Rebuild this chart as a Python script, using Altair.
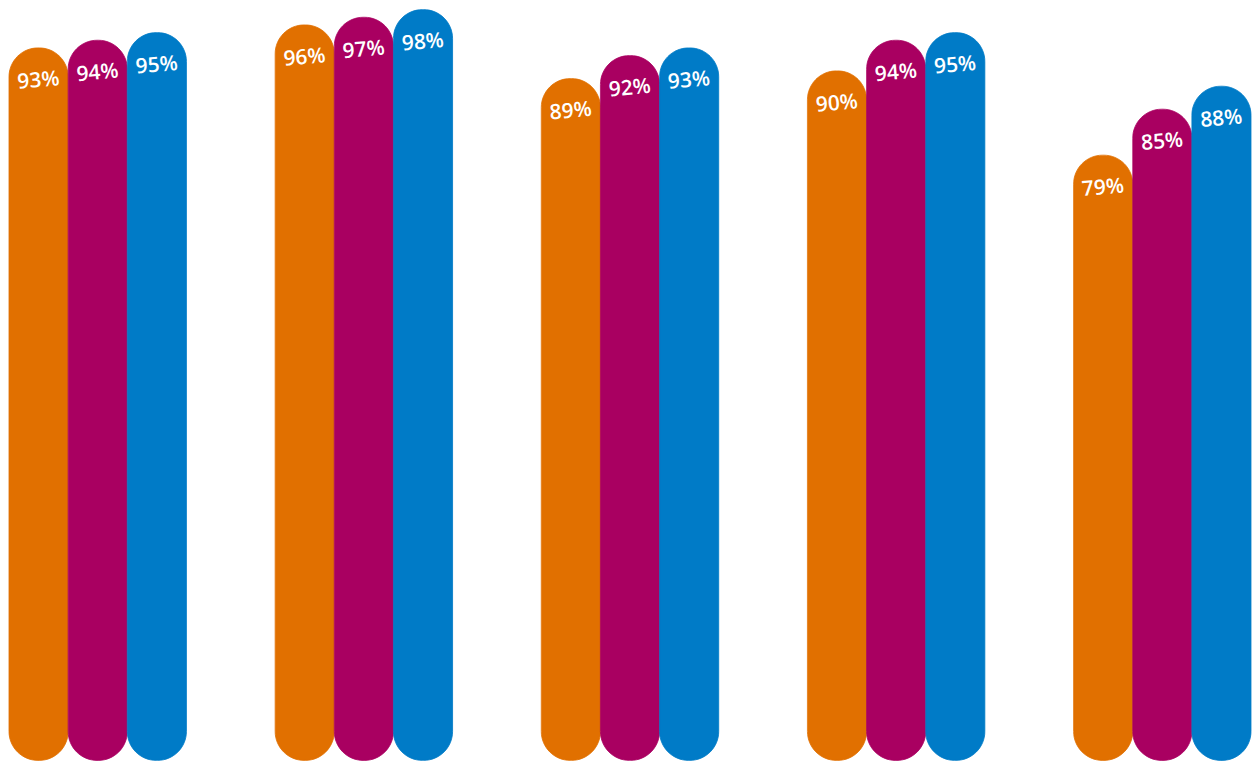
# Rounded grouped bars with white percentage labels (Altair)
import pandas as pd
import altair as alt

# ------------------------------------------------------------
# Data
# ------------------------------------------------------------
groups = ["1", "2", "3", "4", "5"]
series = ["oranje", "violet", "hemelblauw"]
oranje = [93, 96, 89, 90, 79]
violet = [94, 97, 92, 94, 85]
hemelblauw = [95, 98, 93, 95, 88]
colors = ["#E17000", "#A90061", "#007BC7"]

rows = []
for s, vals in zip(series, [oranje, violet, hemelblauw]):
    for g, v in zip(groups, vals):
        rows.append({"group": g, "series": s, "value": v, "label": f"{v}%"})
df = pd.DataFrame(rows)

# ------------------------------------------------------------
# Encodings
# ------------------------------------------------------------
x = alt.X("group:N", sort=groups, axis=None,
          scale=alt.Scale(paddingInner=1 / 3, paddingOuter=0))
xoff = alt.XOffset("series:N", sort=series,
                   scale=alt.Scale(paddingInner=0, paddingOuter=0))
y = alt.Y("value:Q", axis=None, scale=alt.Scale(domain=[0, 98], nice=False, zero=True))
col_scale = alt.Scale(domain=series, range=colors)

base = alt.Chart(df)

# stroke in the fill colour closes the hairline seams between touching bars
bars = base.mark_bar(cornerRadius=29, strokeWidth=0.8).encode(
    x=x,
    xOffset=xoff,
    y=y,
    color=alt.Color("series:N", sort=series, legend=None, scale=col_scale),
    stroke=alt.Stroke("series:N", sort=series, legend=None, scale=col_scale),
)

labels = base.mark_text(
    color="white", font="Open Sans", fontWeight=600, fontSize=21,
    align="center", baseline="middle", angle=355, dy=33, dx=-3,
).encode(
    x=x,
    xOffset=xoff,
    y=y,
    text="label:N",
)

chart = (
    alt.layer(bars, labels)
    .properties(width=1244, height=752, padding=0, background="white")
    .configure_view(strokeWidth=0)
)

chart.save("out.html", embed_options={"renderer": "svg", "actions": False})
